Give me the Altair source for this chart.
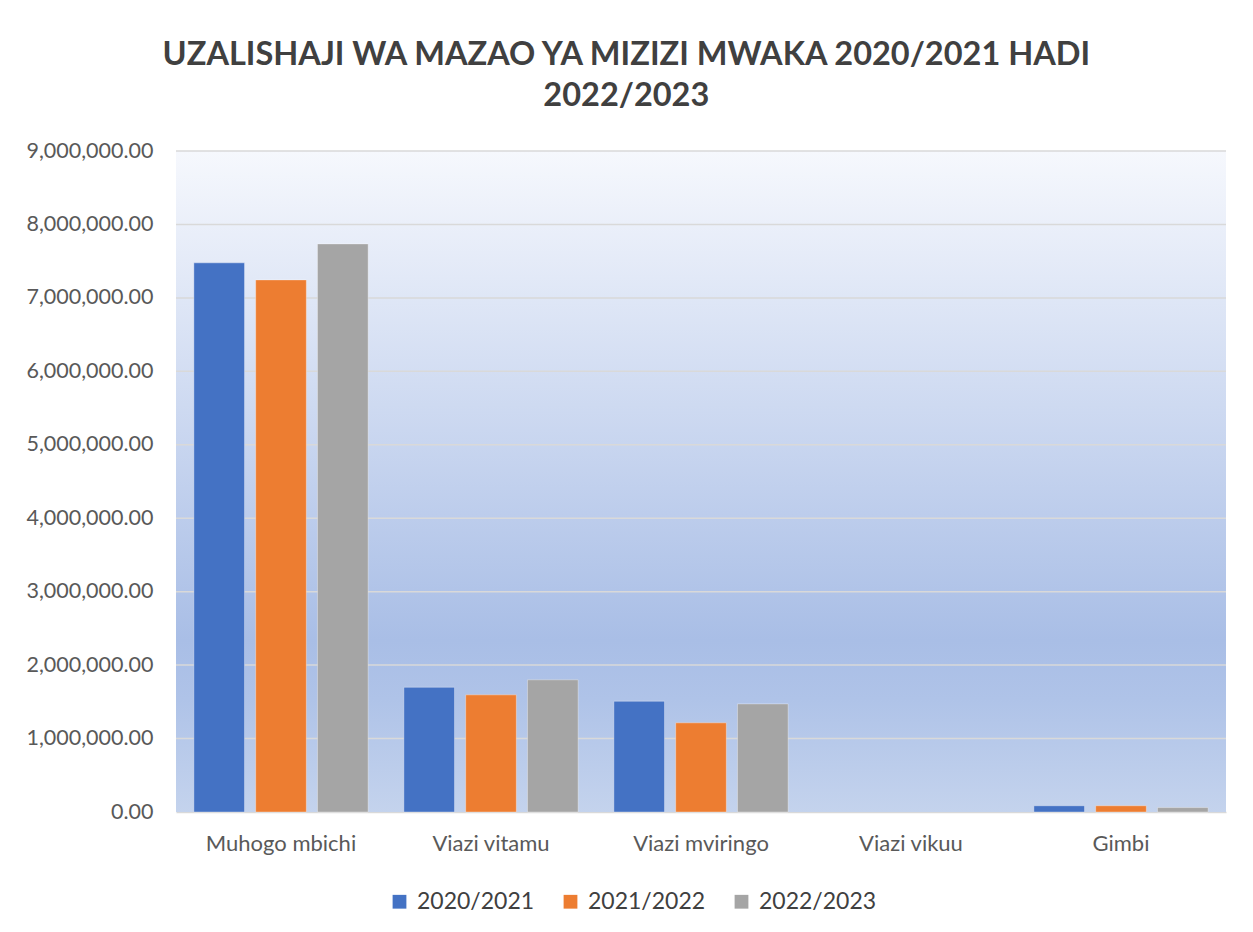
import altair as alt
import pandas as pd

categories = ["Muhogo mbichi", "Viazi vitamu", "Viazi mviringo", "Viazi vikuu", "Gimbi"]
seasons = ["2020/2021", "2021/2022", "2022/2023"]
v_2020_2021 = [7477000, 1698000, 1508000, 0, 85000]
v_2021_2022 = [7245000, 1595000, 1214000, 0, 85000]
v_2022_2023 = [7735000, 1800000, 1472000, 0, 60000]
colors = ["#4472C4", "#ED7D31", "#A5A5A5"]
y_ticks = [0, 1000000, 2000000, 3000000, 4000000, 5000000, 6000000, 7000000, 8000000, 9000000]

rows = []
for s, vals in zip(seasons, [v_2020_2021, v_2021_2022, v_2022_2023]):
    for c, v in zip(categories, vals):
        rows.append({"Zao": c, "Mwaka": s, "Thamani": v})
df = pd.DataFrame(rows)
grid_df = pd.DataFrame({"Thamani": y_ticks[1:]})
bg_df = pd.DataFrame({"k": [0]})

FONT = "Lato"
W, H = 1050, 661

gradient = alt.LinearGradient(
    gradient="linear",
    x1=0, y1=0, x2=0, y2=1,
    stops=[
        alt.GradientStop(offset=0, color="#F6F8FD"),
        alt.GradientStop(offset=0.74, color="#A9BEE6"),
        alt.GradientStop(offset=0.83, color="#AFC3E8"),
        alt.GradientStop(offset=1, color="#C4D3ED"),
    ],
)

bg = alt.Chart(bg_df).mark_rect(color=gradient).encode(
    x=alt.value(0), x2=alt.value("width"), y=alt.value(0), y2=alt.value("height")
)

y_scale = alt.Scale(domain=[0, 9000000], nice=False)

grid = alt.Chart(grid_df).mark_rule(color="#D9D9D9", strokeWidth=1.5).encode(
    y=alt.Y("Thamani:Q", scale=y_scale)
)

bars = alt.Chart(df).transform_filter("datum.Thamani > 0").mark_bar(
    stroke="#ffffff", strokeOpacity=0.35, strokeWidth=1
).encode(
    x=alt.X("Zao:N", sort=categories, title=None,
            scale=alt.Scale(domain=categories, paddingInner=0.17, paddingOuter=0.085),
            axis=alt.Axis(labelAngle=0, ticks=False, labelPadding=21, labelFontSize=22,
                          labelColor="#595959", labelFont=FONT, domainColor="#D9D9D9",
                          domainWidth=1.5)),
    xOffset=alt.XOffset("Mwaka:N", sort=seasons,
                        scale=alt.Scale(domain=seasons, paddingInner=0.18)),
    y=alt.Y("Thamani:Q", title=None, scale=y_scale,
            axis=alt.Axis(values=y_ticks, format=",.2f", ticks=False, domain=False, grid=False,
                          labelPadding=23, labelFontSize=21.5, labelColor="#595959",
                          labelFont=FONT)),
    color=alt.Color("Mwaka:N", sort=seasons,
                    scale=alt.Scale(domain=seasons, range=colors),
                    legend=alt.Legend(title=None, orient="none", direction="horizontal",
                                      legendX=212, legendY=739,
                                      symbolType="square", symbolSize=190,
                                      symbolStrokeWidth=0, labelFontSize=23,
                                      labelColor="#404040", labelFont=FONT,
                                      columnPadding=24, labelOffset=6)),
)

chart = alt.layer(bg, grid, bars).properties(
    width=W,
    height=H,
    title=alt.TitleParams(
        ["UZALISHAJI WA MAZAO YA MIZIZI MWAKA 2020/2021 HADI", "2022/2023"],
        font=FONT, fontSize=32.5, fontWeight="bold", color="#404040",
        anchor="middle", frame="bounds", offset=28, lineHeight=41,
    ),
    padding={"left": 17, "top": 30, "right": 15, "bottom": 10},
).configure_view(stroke=None)

chart.save("out.html", embed_options={"renderer": "svg", "actions": False})
